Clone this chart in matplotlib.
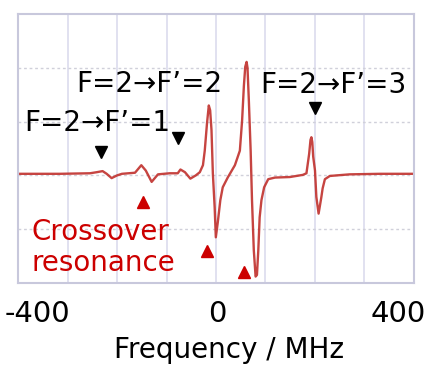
import matplotlib
matplotlib.use("Agg")
import matplotlib.pyplot as plt

plt.rcParams['font.family'] = ['DejaVu Sans']

# spectrum (frequency in MHz, signal in grid units)
freq = [-444, -351, -284, -269, -256, -247, -236, -224, -213, -184, -170, -160,
        -147, -133, -107, -89, -83, -73, -61, -49, -40, -33, -29, -24, -20, -17,
        -14, -11, -7, -4.4, 0, 5.6, 11, 22, 38, 49, 54, 58, 61, 64, 66, 69, 73,
        76, 80, 84, 87, 90, 93, 97, 103, 112, 127, 160, 189, 197, 203, 206, 208,
        210, 212, 216, 219, 224, 230, 233, 238, 249, 293, 360, 436]
signal = [0.03, 0.03, 0.04, 0.06, 0.08, 0.03, -0.05, 0.0, 0.03, 0.05, 0.19, 0.09,
          -0.12, 0.02, 0.04, 0.04, 0.11, 0.06, -0.06, 0.0, 0.06, 0.19, 0.46, 0.97,
          1.30, 1.21, 0.84, 0.04, -0.59, -1.15, -0.87, -0.46, -0.22, -0.04, 0.19,
          0.46, 1.02, 1.67, 2.02, 2.11, 2.0, 1.39, 0.46, -0.46, -1.39, -1.88, -1.85,
          -1.39, -0.78, -0.46, -0.22, -0.07, -0.04, -0.03, 0.01, 0.04, 0.40, 0.66,
          0.71, 0.62, 0.35, 0.09, -0.40, -0.71, -0.41, -0.24, -0.07, -0.01, 0.02,
          0.03, 0.03]

# transition markers
hf_freq = [-260, -89, 216]
hf_sig = [0.43, 0.69, 1.25]
co_freq = [-167, -24, 58]
co_sig = [-0.50, -1.41, -1.80]

xticks = [-400, 0, 400]
vgrid = [-334, -224, -114, -4, 106, 216, 326]
hgrid = [-1, 0, 1, 2]

fig = plt.figure(figsize=(4.34, 3.69), dpi=100)
ax = fig.add_axes([0.0415, 0.233, 0.9124, 0.729])

for g in vgrid:
    ax.axvline(g, color='#dcdcee', lw=1.2, zorder=0)
for g in hgrid:
    ax.axhline(g, color='#d0d0da', lw=1.0, ls=(0, (2, 2)), zorder=0)

ax.plot(freq, signal, color='#c0302c', lw=1.7, alpha=0.9)

ax.plot(hf_freq, hf_sig, 'v', color='black', ms=9)
ax.plot(co_freq, co_sig, '^', color='#cc0000', ms=9)

ax.text(-153, 1.70, 'F=2→F’=2', fontsize=20, ha='center', va='center')
ax.text(-268, 0.98, 'F=2→F’=1', fontsize=20, ha='center', va='center')
ax.text(256, 1.69, 'F=2→F’=3', fontsize=20, ha='center', va='center')
ax.text(-413, -0.80, 'Crossover\nresonance', fontsize=20, color='#cc0000',
        ha='left', va='top', linespacing=1.1)

ax.set_xlim(-444, 436)
ax.set_ylim(-2, 3)
ax.set_xticks(xticks)
ax.set_xticklabels(['-400', '0', '400'], fontsize=21)
ax.tick_params(axis='x', length=0, pad=12)
ax.set_yticks([])
for s in ax.spines.values():
    s.set_color('#c8c8dc')
    s.set_linewidth(1.5)

fig.text(0.527, 1 - 358 / 369, 'Frequency / MHz', fontsize=20,
         ha='center', va='baseline')

fig.savefig('out.png', dpi=100)
